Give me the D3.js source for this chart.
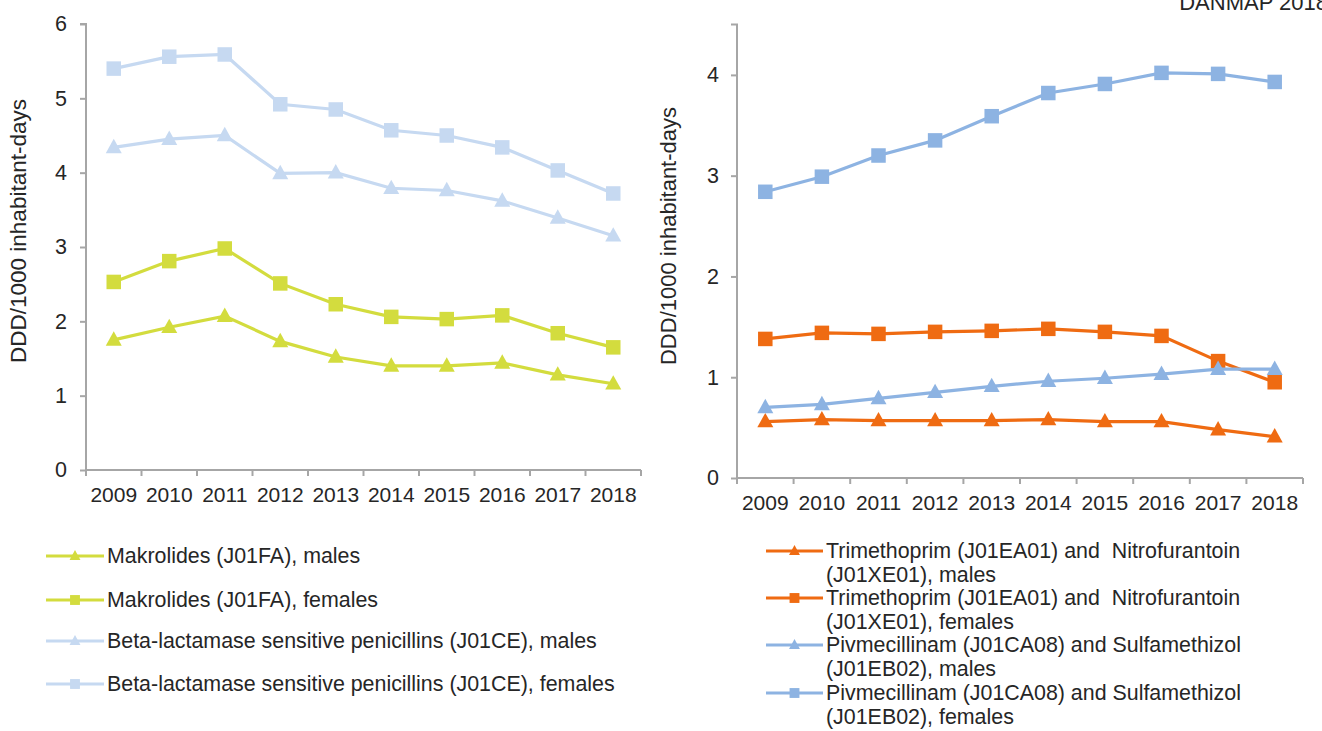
<!DOCTYPE html>
<html><head><meta charset="utf-8">
<script src="https://cdn.jsdelivr.net/npm/d3@7"></script>
<style>body{margin:0;background:#fff;}svg{display:block;font-family:"Liberation Sans",Arial,sans-serif;}text{white-space:pre;}</style>
</head><body>
<svg id="c" width="1322" height="731"></svg>
<script>
const years = ["2009","2010","2011","2012","2013","2014","2015","2016","2017","2018"];
const leftTicks = [0,1,2,3,4,5,6];
const rightTicks = [0,1,2,3,4];
const makroMales   = [1.75,1.92,2.07,1.73,1.52,1.40,1.40,1.44,1.28,1.16];
const makroFemales = [2.53,2.81,2.98,2.51,2.23,2.06,2.03,2.08,1.84,1.65];
const betaMales    = [4.34,4.45,4.50,3.99,4.00,3.79,3.76,3.62,3.39,3.15];
const betaFemales  = [5.40,5.56,5.59,4.92,4.85,4.57,4.50,4.34,4.03,3.72];
const trimMales    = [0.56,0.58,0.57,0.57,0.57,0.58,0.56,0.56,0.48,0.41];
const trimFemales  = [1.38,1.44,1.43,1.45,1.46,1.48,1.45,1.41,1.16,0.95];
const pivMales     = [0.70,0.73,0.79,0.85,0.91,0.96,0.99,1.03,1.08,1.08];
const pivFemales   = [2.84,2.99,3.20,3.35,3.59,3.82,3.91,4.02,4.01,3.93];

const cGreen="#d3dc3e", cLight="#c6d9f1", cOrange="#ef6b12", cBlue="#8db3e2";
const textCol="#262626", axisCol="#a6a6a6";
const FS = 21;

const leftSeries = [
  {name:["Makrolides (J01FA), males"], values:makroMales, color:cGreen, shape:"tri"},
  {name:["Makrolides (J01FA), females"], values:makroFemales, color:cGreen, shape:"sq"},
  {name:["Beta-lactamase sensitive penicillins (J01CE), males"], values:betaMales, color:cLight, shape:"tri"},
  {name:["Beta-lactamase sensitive penicillins (J01CE), females"], values:betaFemales, color:cLight, shape:"sq"}
];
const rightSeries = [
  {name:["Trimethoprim (J01EA01) and  Nitrofurantoin","(J01XE01), males"], values:trimMales, color:cOrange, shape:"tri"},
  {name:["Trimethoprim (J01EA01) and  Nitrofurantoin","(J01XE01), females"], values:trimFemales, color:cOrange, shape:"sq"},
  {name:["Pivmecillinam (J01CA08) and Sulfamethizol","(J01EB02), males"], values:pivMales, color:cBlue, shape:"tri"},
  {name:["Pivmecillinam (J01CA08) and Sulfamethizol","(J01EB02), females"], values:pivFemales, color:cBlue, shape:"sq"}
];

const svg = d3.select("#c");

function drawChart(cfg){
  const g = svg.append("g");
  const x = d3.scaleBand().domain(years).range([cfg.x0,cfg.x1]);
  const y = d3.scaleLinear().domain(cfg.domain).range([cfg.yb,cfg.yt]);
  const ya = g.append("g").attr("transform",`translate(${cfg.x0},0)`)
    .call(d3.axisLeft(y).tickValues(cfg.ticks).tickSize(6).tickPadding(cfg.ypad).tickFormat(d3.format("d")));
  ya.select(".domain").attr("stroke",axisCol).attr("stroke-width",2).attr("d",`M-6,${cfg.yt}H0V${cfg.yb}`);
  ya.selectAll(".tick line").attr("stroke",axisCol).attr("stroke-width",2);
  ya.selectAll(".tick text").attr("fill",textCol).attr("font-size",21.5).attr("font-family","Liberation Sans, Arial, sans-serif");
  const xa = g.append("g").attr("transform",`translate(0,${cfg.yb})`)
    .call(d3.axisBottom(x).tickSize(0).tickPadding(17));
  xa.select(".domain").attr("stroke",axisCol).attr("stroke-width",2).attr("d",`M${cfg.x0},0H${cfg.x1}`);
  xa.selectAll(".tick text").attr("fill",textCol).attr("font-size",FS).attr("font-family","Liberation Sans, Arial, sans-serif");
  const bounds = years.map(d=>x(d)).concat([cfg.x1]);
  g.selectAll(".xt").data(bounds).enter().append("line")
    .attr("x1",d=>d).attr("x2",d=>d).attr("y1",cfg.yb).attr("y2",cfg.yb+6)
    .attr("stroke",axisCol).attr("stroke-width",2);
  g.append("text").attr("transform",`translate(${cfg.titleX},${cfg.titleY}) rotate(-90)`)
    .attr("text-anchor","middle").attr("font-size",cfg.titleFS).attr("fill",textCol)
    .text("DDD/1000 inhabitant-days");
  const line = d3.line().x((d,i)=>x(years[i])+x.bandwidth()/2).y(d=>y(d));
  cfg.series.forEach(s=>{
    g.append("path").datum(s.values).attr("d",line).attr("fill","none")
      .attr("stroke",s.color).attr("stroke-width",3.2);
    s.values.forEach((v,i)=>{
      drawMarker(g, x(years[i])+x.bandwidth()/2, y(v), s.shape, s.color, 1);
    });
  });
}

function drawMarker(g,cx,cy,shape,color,scale){
  if(shape==="sq"){
    const s=14.5*scale;
    g.append("rect").attr("x",cx-s/2).attr("y",cy-s/2).attr("width",s).attr("height",s).attr("fill",color);
  } else {
    const s=16*scale;
    const h=s*0.9;
    g.append("path").attr("d",`M${cx},${cy-h*0.6}L${cx+s/2},${cy+h*0.4}L${cx-s/2},${cy+h*0.4}Z`).attr("fill",color);
  }
}

drawChart({x0:86,x1:641,yt:24,yb:470,domain:[0,6],ticks:leftTicks,series:leftSeries,titleX:26,titleY:231,titleFS:22.5,ypad:13});
drawChart({x0:737,x1:1303,yt:24.5,yb:478,domain:[0,4.5],ticks:rightTicks,series:rightSeries,titleX:676,titleY:236,titleFS:22,ypad:12});

function legend(series,lx0,lx1,tx,rows,lineH){
  const g=svg.append("g");
  series.forEach((s,k)=>{
    const yy=rows[k];
    g.append("line").attr("x1",lx0).attr("x2",lx1).attr("y1",yy).attr("y2",yy).attr("stroke",s.color).attr("stroke-width",3.2);
    drawMarker(g,(lx0+lx1)/2,yy,s.shape,s.color,0.68);
    s.name.forEach((t,j)=>{
      g.append("text").attr("x",tx).attr("y",yy+j*lineH).attr("dy","0.35em")
        .attr("font-size",21.4).attr("fill",textCol).text(t);
    });
  });
}
legend(leftSeries,46,104,107,[556,600,641,684],24);
legend(rightSeries,766,823,826,[551,598,645,693],24);

svg.append("text").attr("x",1328).attr("y",10).attr("text-anchor","end").attr("font-size",22).attr("fill",textCol).text("DANMAP 2018");
</script>
</body></html>
